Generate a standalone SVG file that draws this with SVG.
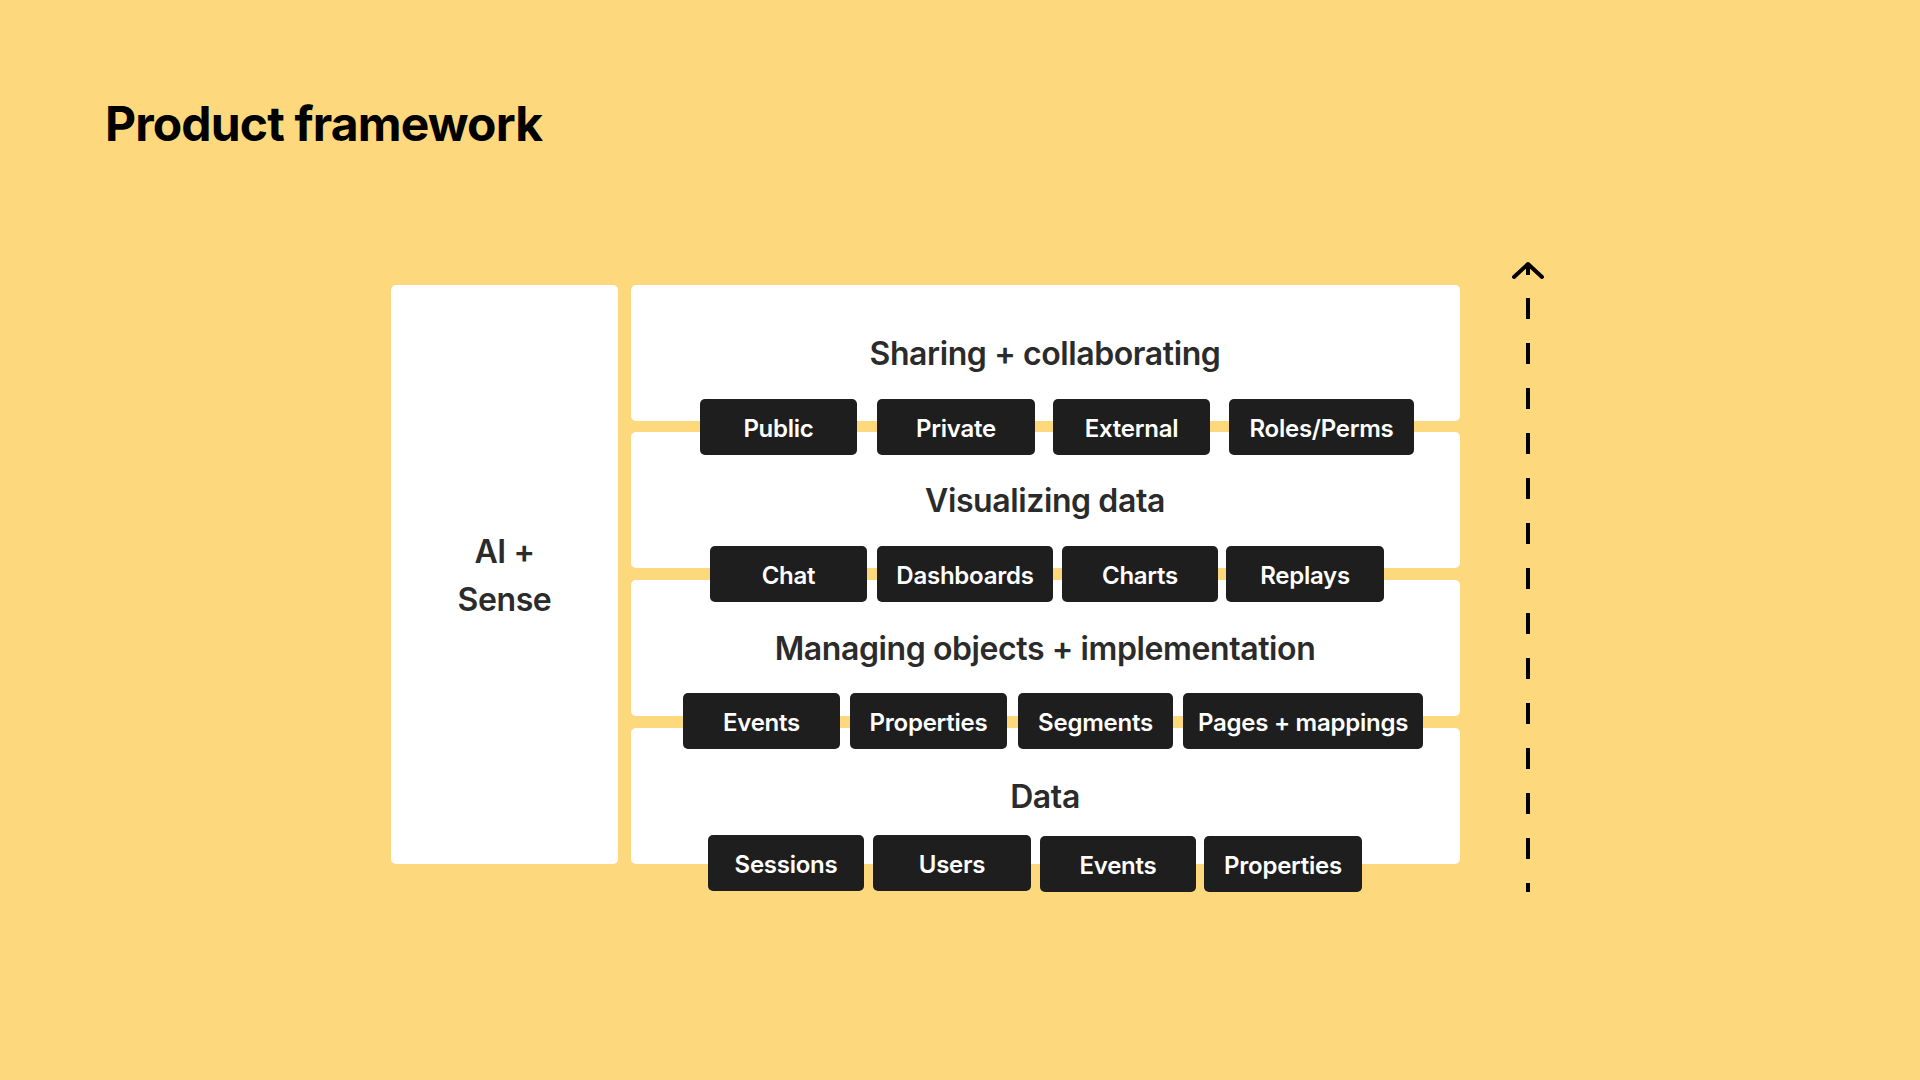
<svg xmlns="http://www.w3.org/2000/svg" width="1920" height="1080" viewBox="0 0 1920 1080">
  <style>
    .panel { fill: #ffffff; }
    .chip rect { fill: #1e1e1e; }
    .chip text { fill: #ffffff; font-family: Inter, "Noto Sans", "Liberation Sans", sans-serif; font-weight: 600; font-size: 24px; letter-spacing: -0.25px; text-anchor: middle; }
    .ptitle { fill: #2b2b2b; font-family: Inter, "Noto Sans", "Liberation Sans", sans-serif; font-weight: 600; font-size: 32px; letter-spacing: -0.4px; text-anchor: middle; }
    .title { fill: #000000; font-family: Inter, "Noto Sans", "Liberation Sans", sans-serif; font-weight: 700; font-size: 48px; letter-spacing: -0.85px; }
    .arrow { stroke: #000000; stroke-width: 4; fill: none; }
  </style>
  <rect width="1920" height="1080" fill="#FED87D"/>
  <text class="title" x="105" y="141">Product framework</text>

  <g id="ai-sense">
    <rect class="panel" x="391" y="285" width="227" height="579" rx="5"/>
    <text class="ptitle" x="504.5" y="563">AI +</text>
    <text class="ptitle" x="504.5" y="611">Sense</text>
  </g>

  <g id="sharing">
    <rect class="panel" x="631" y="285" width="829" height="136" rx="5"/>
    <text class="ptitle" x="1045" y="365">Sharing + collaborating</text>
  </g>
  <g id="visualizing">
    <rect class="panel" x="631" y="432" width="829" height="136" rx="5"/>
    <text class="ptitle" x="1045" y="512">Visualizing data</text>
  </g>
  <g id="managing">
    <rect class="panel" x="631" y="580" width="829" height="136" rx="5"/>
    <text class="ptitle" x="1045" y="660">Managing objects + implementation</text>
  </g>
  <g id="data">
    <rect class="panel" x="631" y="728" width="829" height="136" rx="5"/>
    <text class="ptitle" x="1045" y="808">Data</text>
  </g>

  <g id="chip-public" class="chip"><rect x="700" y="399" width="157" height="56" rx="5"/><text x="778.5" y="437">Public</text></g>
  <g id="chip-private" class="chip"><rect x="877" y="399" width="158" height="56" rx="5"/><text x="956" y="437">Private</text></g>
  <g id="chip-external" class="chip"><rect x="1053" y="399" width="157" height="56" rx="5"/><text x="1131.5" y="437">External</text></g>
  <g id="chip-roles" class="chip"><rect x="1229" y="399" width="185" height="56" rx="5"/><text x="1321.5" y="437">Roles/Perms</text></g>

  <g id="chip-chat" class="chip"><rect x="710" y="546" width="157" height="56" rx="5"/><text x="788.5" y="584">Chat</text></g>
  <g id="chip-dashboards" class="chip"><rect x="877" y="546" width="176" height="56" rx="5"/><text x="965" y="584">Dashboards</text></g>
  <g id="chip-charts" class="chip"><rect x="1062" y="546" width="156" height="56" rx="5"/><text x="1140" y="584">Charts</text></g>
  <g id="chip-replays" class="chip"><rect x="1226" y="546" width="158" height="56" rx="5"/><text x="1305" y="584">Replays</text></g>

  <g id="chip-events-1" class="chip"><rect x="683" y="693" width="157" height="56" rx="5"/><text x="761.5" y="731">Events</text></g>
  <g id="chip-properties-1" class="chip"><rect x="850" y="693" width="157" height="56" rx="5"/><text x="928.5" y="731">Properties</text></g>
  <g id="chip-segments" class="chip"><rect x="1018" y="693" width="155" height="56" rx="5"/><text x="1095.5" y="731">Segments</text></g>
  <g id="chip-pages" class="chip"><rect x="1183" y="693" width="240" height="56" rx="5"/><text x="1303" y="731">Pages + mappings</text></g>

  <g id="chip-sessions" class="chip"><rect x="708" y="835" width="156" height="56" rx="5"/><text x="786" y="873">Sessions</text></g>
  <g id="chip-users" class="chip"><rect x="873" y="835" width="158" height="56" rx="5"/><text x="952" y="873">Users</text></g>
  <g id="chip-events-2" class="chip"><rect x="1040" y="836" width="156" height="56" rx="5"/><text x="1118" y="874">Events</text></g>
  <g id="chip-properties-2" class="chip"><rect x="1204" y="836" width="158" height="56" rx="5"/><text x="1283" y="874">Properties</text></g>

  <g id="connectors">
    <line class="arrow" x1="1528" y1="298" x2="1528" y2="892" stroke-dasharray="21 24"/>
    <line class="arrow" x1="1528" y1="266" x2="1528" y2="275"/>
    <polyline class="arrow" points="1514,277 1528,264 1542,277" stroke-linecap="round" stroke-linejoin="round"/>
  </g>
</svg>
